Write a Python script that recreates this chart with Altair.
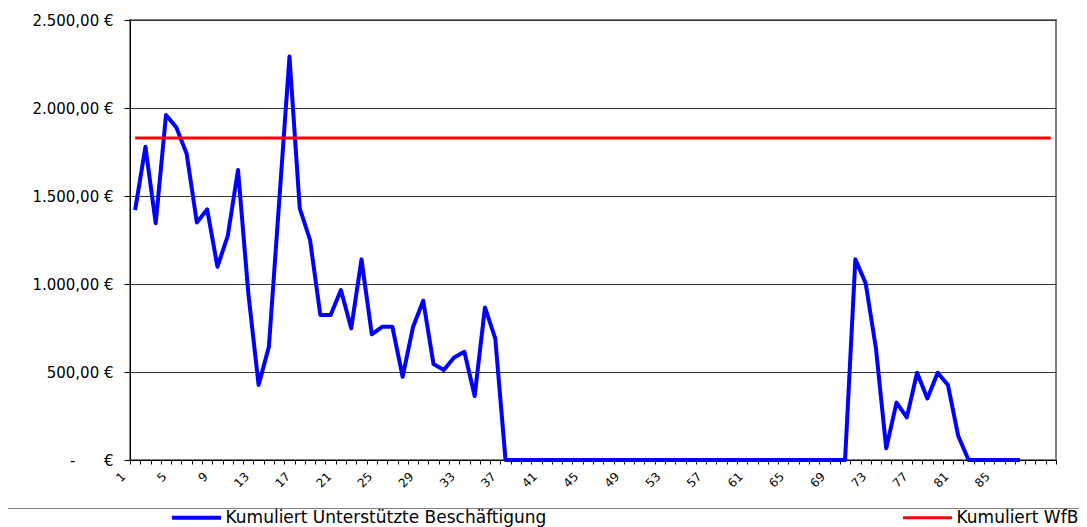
import altair as alt
import pandas as pd

categories = list(range(1, 91))

blue_name = "Kumuliert Unterstützte Beschäftigung"
red_name = "Kumuliert WfB"

blue_values = [
    1420, 1780, 1345, 1960, 1890, 1742, 1349, 1424, 1098, 1273,
    1648, 947, 426, 644, 1468, 2292, 1430, 1250, 824, 824,
    966, 748, 1140, 714, 757, 757, 473, 754, 905, 545,
    511, 583, 615, 364, 867, 691, 0, 0, 0, 0,
    0, 0, 0, 0, 0, 0, 0, 0, 0, 0,
    0, 0, 0, 0, 0, 0, 0, 0, 0, 0,
    0, 0, 0, 0, 0, 0, 0, 0, 0, 0,
    1140, 1004, 635, 66, 326, 242, 496, 350, 496, 426,
    136, 0, 0, 0, 0, 0, 0,
]

red_values = [
    1830, 1830, 1830, 1830, 1830, 1830, 1830, 1830, 1830, 1830,
    1830, 1830, 1830, 1830, 1830, 1830, 1830, 1830, 1830, 1830,
    1830, 1830, 1830, 1830, 1830, 1830, 1830, 1830, 1830, 1830,
    1830, 1830, 1830, 1830, 1830, 1830, 1830, 1830, 1830, 1830,
    1830, 1830, 1830, 1830, 1830, 1830, 1830, 1830, 1830, 1830,
    1830, 1830, 1830, 1830, 1830, 1830, 1830, 1830, 1830, 1830,
    1830, 1830, 1830, 1830, 1830, 1830, 1830, 1830, 1830, 1830,
    1830, 1830, 1830, 1830, 1830, 1830, 1830, 1830, 1830, 1830,
    1830, 1830, 1830, 1830, 1830, 1830, 1830, 1830, 1830, 1830,
]

y_ticks = [0, 500, 1000, 1500, 2000, 2500]
x_ticks = [k + 0.5 for k in range(0, 91)]

rows = [{"x": c, "v": v, "s": blue_name} for c, v in zip(categories, blue_values)]
rows += [{"x": c, "v": v, "s": red_name} for c, v in zip(categories, red_values)]
df = pd.DataFrame(rows)

font = "DejaVu Sans"
nb = "\u00a0"
y_label_expr = (
    "datum.value == 0 ? '-" + nb * 6 + "€' : "
    "replace(replace(replace(format(datum.value, ',.2f'), ',', '#'), '.', ','), '#', '.') + ' €'"
)
x_label_expr = (
    "((datum.value - 0.5) % 4 == 0 && datum.value < 86) ? format(datum.value + 0.5, 'd') : ''"
)

chart = alt.Chart(df).mark_line(strokeJoin="round").encode(
    x=alt.X(
        "x:Q",
        scale=alt.Scale(domain=[0.5, 90.5], nice=False, zero=False),
        axis=alt.Axis(
            values=x_ticks, labelExpr=x_label_expr, labelAngle=-45,
            labelAlign="right", labelBaseline="middle", grid=False,
            tickSize=4, tickColor="black", domainColor="black",
            labelFont=font, labelFontSize=12, labelColor="black",
            labelPadding=10, labelOffset=-7, labelOverlap=False, labelBound=False,
            labelFlush=False, title=None,
        ),
    ),
    y=alt.Y(
        "v:Q",
        scale=alt.Scale(domain=[0, 2500], nice=False),
        axis=alt.Axis(
            values=y_ticks, labelExpr=y_label_expr, grid=True,
            gridColor="#333333", gridWidth=1, tickSize=6, tickColor="black",
            domainColor="black", labelFont=font, labelFontSize=15,
            labelColor="black", labelPadding=11, labelOverlap=False,
            labelFlush=False, title=None,
        ),
    ),
    color=alt.Color(
        "s:N",
        scale=alt.Scale(domain=[blue_name, red_name], range=["#0000FF", "#FF0000"]),
        legend=alt.Legend(
            orient="none", legendX=-126, legendY=488, direction="horizontal",
            title=" ", titleOrient="left", titleFontSize=1, titlePadding=183,
            symbolType="M-4.083,0H4.083", symbolSize=144, symbolStrokeWidth=4,
            labelFont=font, labelFontSize=17, labelColor="black",
            labelOffset=20.5, labelLimit=1000, columnPadding=350, padding=1,
            strokeColor="#808080", fillColor="white",
        ),
    ),
    strokeWidth=alt.StrokeWidth(
        "s:N",
        scale=alt.Scale(domain=[blue_name, red_name], range=[4, 3]),
        legend=None,
    ),
).properties(
    width=926,
    height=440,
    padding={"left": 122, "top": 12, "right": 23, "bottom": 67},
    autosize=alt.AutoSizeParams(type="none"),
).configure_view(
    stroke="#808080", strokeWidth=2
)

chart.save("out.html", embed_options={"renderer": "svg", "actions": False})
